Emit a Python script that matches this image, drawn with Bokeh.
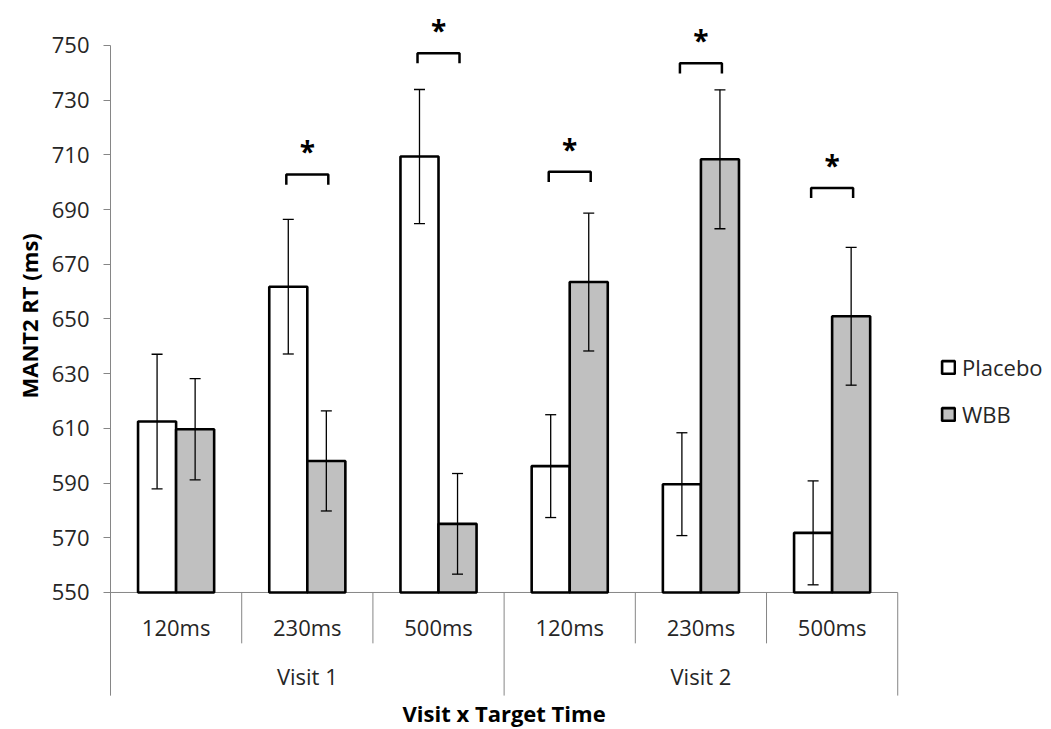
import numpy as np
from bokeh.plotting import figure
from bokeh.models import (Range1d, FixedTicker, Legend, LegendItem, Whisker, TeeHead,
                          ColumnDataSource, Title)
from bokeh.core.properties import value
from bokeh.embed import file_html
from bokeh.resources import INLINE

# ---------------- data ----------------
visits = ["Visit 1", "Visit 2"]
target_times = ["120ms", "230ms", "500ms"]
placebo = [612.5, 661.8, 709.4, 596.2, 589.6, 571.8]
wbb = [609.7, 598.1, 575.1, 663.5, 708.4, 651.0]
placebo_err = [24.6, 24.6, 24.5, 18.8, 18.8, 19.0]
wbb_err = [18.5, 18.3, 18.4, 25.2, 25.4, 25.2]
sig_groups = [1, 2, 3, 4, 5]            # index of groups with a significance bracket
sig_bracket = [702.8, 747.2, 703.8, 743.5, 697.9]
y_ticks = [550, 570, 590, 610, 630, 650, 670, 690, 710, 730, 750]
series_names = ["Placebo", "WBB"]
x_title = "Visit x Target Time"
y_title = "MANT2 RT (ms)"

FONT = value("Open Sans")
TXT = "#262626"
AX = "#868686"

n_t = len(target_times)
n = len(visits) * n_t
centers = np.arange(n) + 0.5
off = 0.145
bar_w = 0.29

y0 = y_ticks[0]
y_start = 499.9
y_end = 766.45
axis_bottom = 512.3

p = figure(width=1051, height=729, output_backend="svg", toolbar_location=None,
           x_range=Range1d(0, 7.172), y_range=Range1d(y_start, y_end),
           min_border_left=110, min_border_right=0, min_border_top=0,
           min_border_bottom=0)
p.outline_line_color = None
p.xgrid.visible = False
p.ygrid.visible = False
p.xaxis.visible = False
p.background_fill_color = "white"
p.border_fill_color = "white"

# y axis
yax = p.yaxis[0]
yax.ticker = FixedTicker(ticks=y_ticks)
yax.bounds = (axis_bottom, y_ticks[-1])
yax.axis_line_color = AX
yax.axis_line_width = 1
yax.major_tick_line_color = AX
yax.major_tick_out = 7
yax.major_tick_in = 0
yax.minor_tick_line_color = None
yax.major_label_text_font = "Open Sans"
yax.major_label_text_font_size = "22px"
yax.major_label_text_color = TXT
yax.major_label_standoff = 14

# y-axis title (as a side title so it can be centred on the axis' value range)
p.add_layout(Title(text=y_title, align="left", offset=331, text_font="Open Sans",
                   text_font_style="bold", text_font_size="22px", text_color="black"), "left")

src = ColumnDataSource(dict(
    x_p=centers - off, x_w=centers + off,
    placebo=placebo, wbb=wbb,
    p_lo=np.array(placebo) - np.array(placebo_err), p_hi=np.array(placebo) + np.array(placebo_err),
    w_lo=np.array(wbb) - np.array(wbb_err), w_hi=np.array(wbb) + np.array(wbb_err),
))

# x-axis baseline
p.segment(x0=[0], y0=[y0], x1=[n], y1=[y0], line_color=AX, line_width=1)

# category separators
sep_x = list(range(n + 1))
sep_bottom = [axis_bottom if j % n_t == 0 else 531.4 for j in sep_x]
p.segment(x0=sep_x, y0=[y0] * len(sep_x), x1=sep_x, y1=sep_bottom, line_color=AX, line_width=1)

r1 = p.vbar(x="x_p", top="placebo", bottom=y0, width=bar_w, fill_color="white",
            line_color="black", line_width=2.6, source=src)
r2 = p.vbar(x="x_w", top="wbb", bottom=y0, width=bar_w, fill_color="#c0c0c0",
            line_color="black", line_width=2.6, source=src)

for base, lo, hi in (("x_p", "p_lo", "p_hi"), ("x_w", "w_lo", "w_hi")):
    w = Whisker(source=src, base=base, lower=lo, upper=hi, line_color="black", line_width=1.3,
                upper_head=TeeHead(size=11, line_color="black", line_width=1.3),
                lower_head=TeeHead(size=11, line_color="black", line_width=1.3),
                level="annotation")
    p.add_layout(w)

# significance brackets
bw = 0.16
tick_d = 3.7
bx = [[centers[g] - bw, centers[g] - bw, centers[g] + bw, centers[g] + bw] for g in sig_groups]
by = [[h - tick_d, h, h, h - tick_d] for h in sig_bracket]
p.multi_line(xs=bx, ys=by, line_color="black", line_width=2.5)
p.text(x=[centers[g] for g in sig_groups], y=[h + 8.5 for h in sig_bracket], text=["*"] * len(sig_groups),
       text_align="center", text_baseline="middle", text_font=FONT, text_font_style="bold",
       text_font_size="28px", text_color="black")

# category labels
p.text(x=centers, y=[537.3] * n, text=target_times * len(visits), text_align="center",
       text_baseline="middle", text_font=FONT, text_font_size="22px", text_color=TXT)
p.text(x=[v * n_t + n_t / 2 for v in range(len(visits))], y=[519.5] * len(visits), text=visits,
       text_align="center", text_baseline="middle", text_font=FONT, text_font_size="22px",
       text_color=TXT)
p.text(x=[n / 2], y=[505.8], text=[x_title], text_align="center", text_baseline="middle",
       text_font=FONT, text_font_style="bold", text_font_size="22px", text_color="black")

legend = Legend(items=[LegendItem(label=series_names[0], renderers=[r1]),
                       LegendItem(label=series_names[1], renderers=[r2])],
                location=(830, 300), orientation="vertical",
                label_text_font="Open Sans", label_text_font_size="22px", label_text_color=TXT,
                glyph_width=16, glyph_height=16, label_height=25, spacing=17, padding=0, margin=0,
                label_standoff=6, border_line_color=None, background_fill_alpha=0)
p.add_layout(legend)

open("out.html", "w").write(file_html(p, INLINE))
